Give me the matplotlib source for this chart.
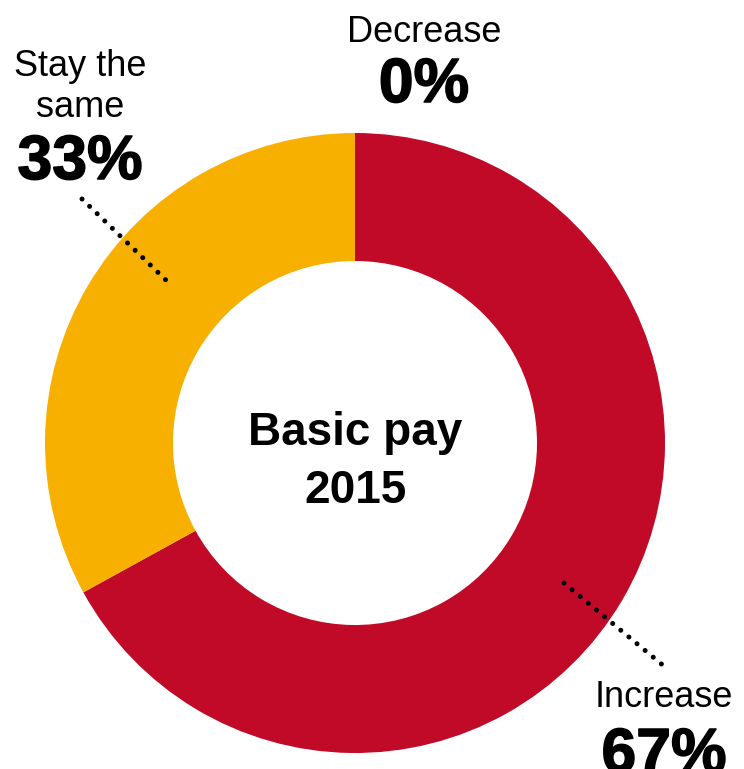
import matplotlib

matplotlib.use("Agg")
import matplotlib.patheffects as pe
import matplotlib.pyplot as plt

# survey answers, basic pay 2015
categories = ["Increase", "Stay the same", "Decrease"]
shares = [67, 33, 0]
colors = ["#C00A27", "#F7B000", "#FFFFFF"]

W, H = 744, 769
CX, CY = 355, 443          # donut centre, pixels from top-left
R_OUT, R_IN = 310, 182

plt.rcParams["font.family"] = ["Liberation Sans", "DejaVu Sans"]

fig = plt.figure(figsize=(W / 100, H / 100), dpi=100)
ax = fig.add_axes([0, 0, 1, 1])


def Y(y):
    return H - y


ax.pie(shares, colors=colors, startangle=90, counterclock=False,
       radius=R_OUT, center=(CX, Y(CY)),
       wedgeprops=dict(width=R_OUT - R_IN, linewidth=0))
ax.set_xlim(0, W)
ax.set_ylim(0, H)
ax.set_aspect("equal")
ax.axis("off")

ax.text(CX, Y(445), "Basic pay", ha="center", va="baseline",
        fontsize=33, fontweight="bold")
ax.text(CX, Y(503), "2015", ha="center", va="baseline",
        fontsize=33, fontweight="bold")

# heavier look for the big percentages
heavy = [pe.withStroke(linewidth=1.1, foreground="black")]

# category labels: (name lines, baselines), value baseline, centre x
labels = {
    "Decrease": (["Decrease"], [42], 102, 424),
    "Stay the same": (["Stay the", "same"], [76, 117], 179, 80),
    "Increase": (["Increase"], [707], 772, 664),
}
for name, share in zip(categories, shares):
    lines, bases, vbase, x = labels[name]
    for line, b in zip(lines, bases):
        ax.text(x, Y(b), line, ha="center", va="baseline", fontsize=26)
    ax.text(x, Y(vbase), f"{share}%", ha="center", va="baseline",
            fontsize=45, fontweight="bold", path_effects=heavy)

# dotted leaders
for (x0, y0), (x1, y1) in [((82, 199), (171, 285)), ((564, 583), (665, 667))]:
    ax.plot([x0, x1], [Y(y0), Y(y1)], color="black", lw=3.6,
            linestyle=(0, (0.01, 2.1)), dash_capstyle="round", zorder=5)

fig.savefig("out.png", dpi=100)
